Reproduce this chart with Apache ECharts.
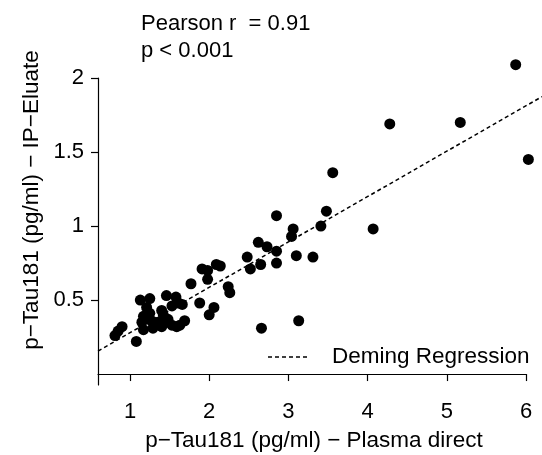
<!DOCTYPE html>
<html>
  <head>
    <meta charset="UTF-8" />
    <title></title>
    <style type="text/css">
      html,
      body {
        width: 100%;
        height: 100%;
        margin: 0;
        padding: 0;
        overflow: hidden;
        background: #fff;
      }
      #chart {
        width: 542px;
        height: 455px;
      }
    </style>
  </head>
  <body>
    <div id="chart"></div>
    <script src="https://cdn.jsdelivr.net/npm/echarts@6/dist/echarts.min.js"></script>
    <script type="text/javascript">
      // plasma direct (x) vs IP-eluate (y), pg/ml
      const plasmaDirect = [
        5.87, 4.28, 5.17, 6.03, 3.56, 4.07, 3.48, 3.41, 2.85, 3.06,
        3.04, 2.62, 2.73, 2.85, 3.10, 3.31, 2.48, 2.65, 2.85, 2.52,
        1.91, 1.98, 2.09, 2.14, 1.98, 1.77, 2.24, 2.26, 1.88, 2.06,
        2.00, 1.66, 1.69, 1.63, 2.66, 3.13,
        1.13, 1.25, 1.21, 1.46, 1.58, 1.61, 1.53, 1.40, 1.42, 1.48,
        1.17, 1.25, 1.15, 1.27, 1.29, 1.40, 1.53, 1.59, 0.90, 0.85,
        0.81, 1.08, 1.17, 1.35, 1.46
      ];
      const ipEluate = [
        2.09, 1.69, 1.70, 1.45, 1.36, 0.98, 1.10, 1.00, 1.07, 0.98,
        0.93, 0.89, 0.86, 0.83, 0.80, 0.79, 0.79, 0.74, 0.75, 0.71,
        0.71, 0.70, 0.74, 0.73, 0.64, 0.61, 0.59, 0.55, 0.48, 0.45,
        0.40, 0.47, 0.36, 0.33, 0.31, 0.36,
        0.50, 0.51, 0.45, 0.53, 0.52, 0.48, 0.46, 0.43, 0.40, 0.37,
        0.39, 0.41, 0.35, 0.36, 0.31, 0.32, 0.33, 0.32, 0.32, 0.29,
        0.26, 0.22, 0.30, 0.35, 0.35
      ];
      // Deming regression line, end points
      const demingX = [0.596, 6.2];
      const demingY = [0.155, 1.874];

      const xTicks = [1, 2, 3, 4, 5, 6];
      const yTicks = [0.5, 1, 1.5, 2];

      const font = "'Liberation Sans', Arial, Helvetica, sans-serif";

      const chart = echarts.init(document.getElementById("chart"));
      chart.setOption({
        backgroundColor: "#fff",
        animation: false,
        textStyle: { fontFamily: font, color: "#000" },
        title: {
          text: "Pearson r  = 0.91\np < 0.001",
          left: 136,
          top: 5,
          textStyle: {
            fontFamily: font,
            fontSize: 22,
            fontWeight: "normal",
            color: "#000",
            lineHeight: 27,
          },
        },
        // main grid carries the axes; second grid only lets the dashed line run to the edge
        grid: [
          { left: 98, right: 16, top: 78, bottom: 70 },
          { left: 98, right: 0, top: 78, bottom: 70 },
        ],
        xAxis: [
          {
            type: "value",
            gridIndex: 0,
            min: 0.596,
            max: 6,
            axisLine: { lineStyle: { color: "#000", width: 1.2 } },
            axisTick: {
              customValues: xTicks,
              length: 7,
              lineStyle: { color: "#000", width: 1.2 },
            },
            axisLabel: {
              customValues: xTicks,
              fontSize: 22,
              color: "#000",
              fontFamily: font,
              margin: 16,
            },
            splitLine: { show: false },
          },
          {
            type: "value",
            gridIndex: 1,
            min: 0.596,
            max: 6.2,
            show: false,
          },
        ],
        yAxis: [
          {
            type: "value",
            gridIndex: 0,
            min: -0.074,
            max: 2,
            axisLine: { show: true, lineStyle: { color: "#000", width: 1.2 } },
            axisTick: {
              show: true,
              customValues: yTicks,
              length: 7,
              lineStyle: { color: "#000", width: 1.2 },
            },
            axisLabel: {
              customValues: yTicks,
              fontSize: 22,
              color: "#000",
              fontFamily: font,
              margin: 14,
            },
            splitLine: { show: false },
          },
          {
            type: "value",
            gridIndex: 1,
            min: -0.074,
            max: 2,
            show: false,
          },
        ],
        graphic: [
          {
            type: "text",
            x: 314,
            y: 441,
            style: {
              text: "p\u2212Tau181 (pg/ml) \u2212 Plasma direct",
              font: "22.5px " + font,
              fill: "#000",
              align: "center",
              verticalAlign: "middle",
            },
          },
          {
            type: "text",
            x: 32,
            y: 200,
            rotation: Math.PI / 2,
            style: {
              text: "p\u2212Tau181 (pg/ml) \u2212 IP\u2212Eluate",
              font: "22.5px " + font,
              fill: "#000",
              align: "center",
              verticalAlign: "middle",
            },
          },
          // legend
          {
            type: "line",
            shape: { x1: 268, y1: 357, x2: 310, y2: 357 },
            style: { stroke: "#000", lineWidth: 1.5, lineDash: [4, 3] },
          },
          {
            type: "text",
            x: 332,
            y: 357,
            style: {
              text: "Deming Regression",
              font: "22.5px " + font,
              fill: "#000",
              align: "left",
              verticalAlign: "middle",
            },
          },
        ],
        series: [
          {
            name: "Deming Regression",
            type: "line",
            xAxisIndex: 1,
            yAxisIndex: 1,
            symbol: "none",
            lineStyle: { color: "#000", width: 1.5, type: [4, 3] },
            data: demingX.map((x, i) => [x, demingY[i]]),
          },
          {
            name: "samples",
            type: "scatter",
            xAxisIndex: 0,
            yAxisIndex: 0,
            clip: false,
            symbolSize: 11,
            itemStyle: { color: "#000", opacity: 1 },
            data: plasmaDirect.map((x, i) => [x, ipEluate[i]]),
          },
        ],
      });
    </script>
  </body>
</html>
